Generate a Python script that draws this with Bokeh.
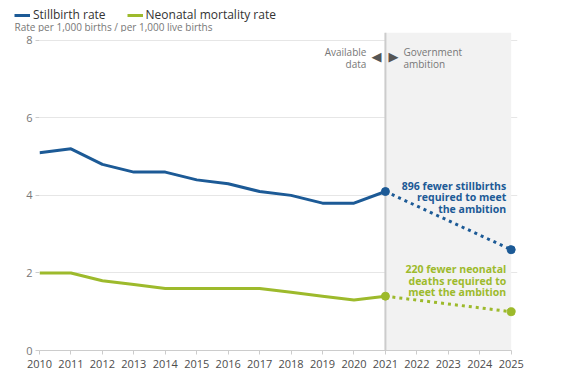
from bokeh.plotting import figure
from bokeh.layouts import column
from bokeh.models import (Range1d, Legend, LegendItem, Label, BoxAnnotation,
                          Span, FixedTicker)
from bokeh.embed import file_html
from bokeh.resources import INLINE

# ---- data ----
years = [2010, 2011, 2012, 2013, 2014, 2015, 2016, 2017, 2018, 2019, 2020, 2021]
stillbirth = [5.1, 5.2, 4.8, 4.6, 4.6, 4.4, 4.3, 4.1, 4.0, 3.8, 3.8, 4.1]
neonatal = [2.0, 2.0, 1.8, 1.7, 1.6, 1.6, 1.6, 1.6, 1.5, 1.4, 1.3, 1.4]
proj_years = [2021, 2025]
stillbirth_proj = [4.1, 2.6]
neonatal_proj = [1.4, 1.0]
x_ticks = list(range(2010, 2026))
y_ticks = [0, 2, 4, 6, 8]
series_names = ["Stillbirth rate", "Neonatal mortality rate"]
subtitle = "Rate per 1,000 births / per 1,000 live births"

BLUE = "#1c5a96"
GREEN = "#9dba2c"
FONT = "Open Sans"

# ---- header (legend + subtitle) ----
hdr = figure(width=554, height=32, output_backend="svg", toolbar_location=None,
             x_range=Range1d(0, 1), y_range=Range1d(0, 1),
             min_border_left=8, min_border_right=0, min_border_top=0, min_border_bottom=0,
             outline_line_color=None, frame_align=False)
hdr.axis.visible = False
hdr.grid.visible = False
# swatch renderers kept outside the header's visible range
h_blue = hdr.line(years[:2], stillbirth[:2], line_color=BLUE, line_width=3)
h_green = hdr.line(years[:2], neonatal[:2], line_color=GREEN, line_width=3)
legend = Legend(items=[LegendItem(label=series_names[0], renderers=[h_blue]),
                       LegendItem(label=series_names[1], renderers=[h_green])],
                orientation="horizontal", location="top_left",
                label_text_font=FONT, label_text_font_size="12px", label_text_color="#333333",
                glyph_width=16, glyph_height=14, label_height=14, label_standoff=3,
                spacing=21, padding=0, margin=6, border_line_color=None,
                background_fill_alpha=0)
hdr.add_layout(legend)
hdr.add_layout(Label(x=6, y=6, x_units="screen", y_units="screen", text=subtitle,
                     text_font=FONT, text_font_size="10px", text_color="#777777",
                     text_baseline="middle"))

# ---- main chart ----
p = figure(frame_width=478, frame_height=318, output_backend="svg", toolbar_location=None,
           x_range=Range1d(2010, 2025.2), y_range=Range1d(0, 8.2),
           min_border_left=39, min_border_right=37, min_border_top=0, min_border_bottom=0,
           outline_line_color=None, frame_align=False)
p.background_fill_color = "white"

# shaded ambition region and divider
p.add_layout(BoxAnnotation(left=proj_years[0], right=proj_years[-1], fill_color="#f2f2f2",
                           fill_alpha=1, line_color=None, level="underlay"))
p.add_layout(Span(location=proj_years[0], dimension="height", line_color="#cccccc",
                  line_width=2, level="underlay"))

# series
p.line(years, stillbirth, line_color=BLUE, line_width=3)
p.line(years, neonatal, line_color=GREEN, line_width=3)
p.line(proj_years, stillbirth_proj, line_color=BLUE, line_width=3, line_dash="3 4")
p.line(proj_years, neonatal_proj, line_color=GREEN, line_width=3, line_dash="3 4")
p.scatter(proj_years, stillbirth_proj, size=8, fill_color=BLUE, line_color=BLUE)
p.scatter(proj_years, neonatal_proj, size=8, fill_color=GREEN, line_color=GREEN)

# axes
p.xaxis.ticker = FixedTicker(ticks=x_ticks)
p.xaxis.bounds = (2010, 2025)
p.xaxis.axis_line_color = "#cccccc"
p.xaxis.major_tick_line_color = "#cccccc"
p.xaxis.major_tick_out = 4
p.xaxis.major_tick_in = 0
p.xaxis.minor_tick_line_color = None
p.xaxis.major_label_text_font = FONT
p.xaxis.major_label_text_font_size = "11px"
p.xaxis.major_label_text_color = "#4d4d4d"
p.xaxis.major_label_standoff = 5

p.yaxis.ticker = FixedTicker(ticks=y_ticks)
p.yaxis.axis_line_color = None
p.yaxis.major_tick_line_color = "#cccccc"
p.yaxis.major_tick_out = 4
p.yaxis.major_tick_in = 0
p.yaxis.minor_tick_line_color = None
p.yaxis.major_label_text_font = FONT
p.yaxis.major_label_text_font_size = "11px"
p.yaxis.major_label_text_color = "#777777"
p.yaxis.major_label_standoff = 3

p.xgrid.grid_line_color = None
p.ygrid.grid_line_color = "#e6e6e6"
p.ygrid.ticker = FixedTicker(ticks=y_ticks)

# region labels
p.add_layout(Label(x=proj_years[0], y=7.88, x_offset=-19, text="Available\ndata",
                   text_align="right", text_baseline="top", text_font=FONT,
                   text_font_size="10px", text_color="#777777", text_line_height=0.85))
p.add_layout(Label(x=proj_years[0], y=7.88, x_offset=18, text="Government\nambition",
                   text_align="left", text_baseline="top", text_font=FONT,
                   text_font_size="10px", text_color="#777777", text_line_height=0.85))
p.add_layout(Label(x=proj_years[0], y=7.57, x_offset=-9, text="\u25c0",
                   text_align="center", text_baseline="middle", text_font="DejaVu Sans",
                   text_font_size="13px", text_color="#555555"))
p.add_layout(Label(x=proj_years[0], y=7.57, x_offset=8, text="\u25b6",
                   text_align="center", text_baseline="middle", text_font="DejaVu Sans",
                   text_font_size="13px", text_color="#555555"))

# annotations
p.add_layout(Label(x=proj_years[-1], y=4.43, x_offset=-5,
                   text="896 fewer stillbirths\nrequired to meet\nthe ambition",
                   text_align="right", text_baseline="top", text_font=FONT,
                   text_font_size="10.5px", text_font_style="bold", text_color=BLUE,
                   text_line_height=0.82))
p.add_layout(Label(x=proj_years[-1], y=2.27, x_offset=-5,
                   text="220 fewer neonatal\ndeaths required to\nmeet the ambition",
                   text_align="right", text_baseline="top", text_font=FONT,
                   text_font_size="10.5px", text_font_style="bold", text_color=GREEN,
                   text_line_height=0.82))

layout = column(hdr, p, spacing=0)
open("out.html", "w").write(file_html(layout, INLINE))
